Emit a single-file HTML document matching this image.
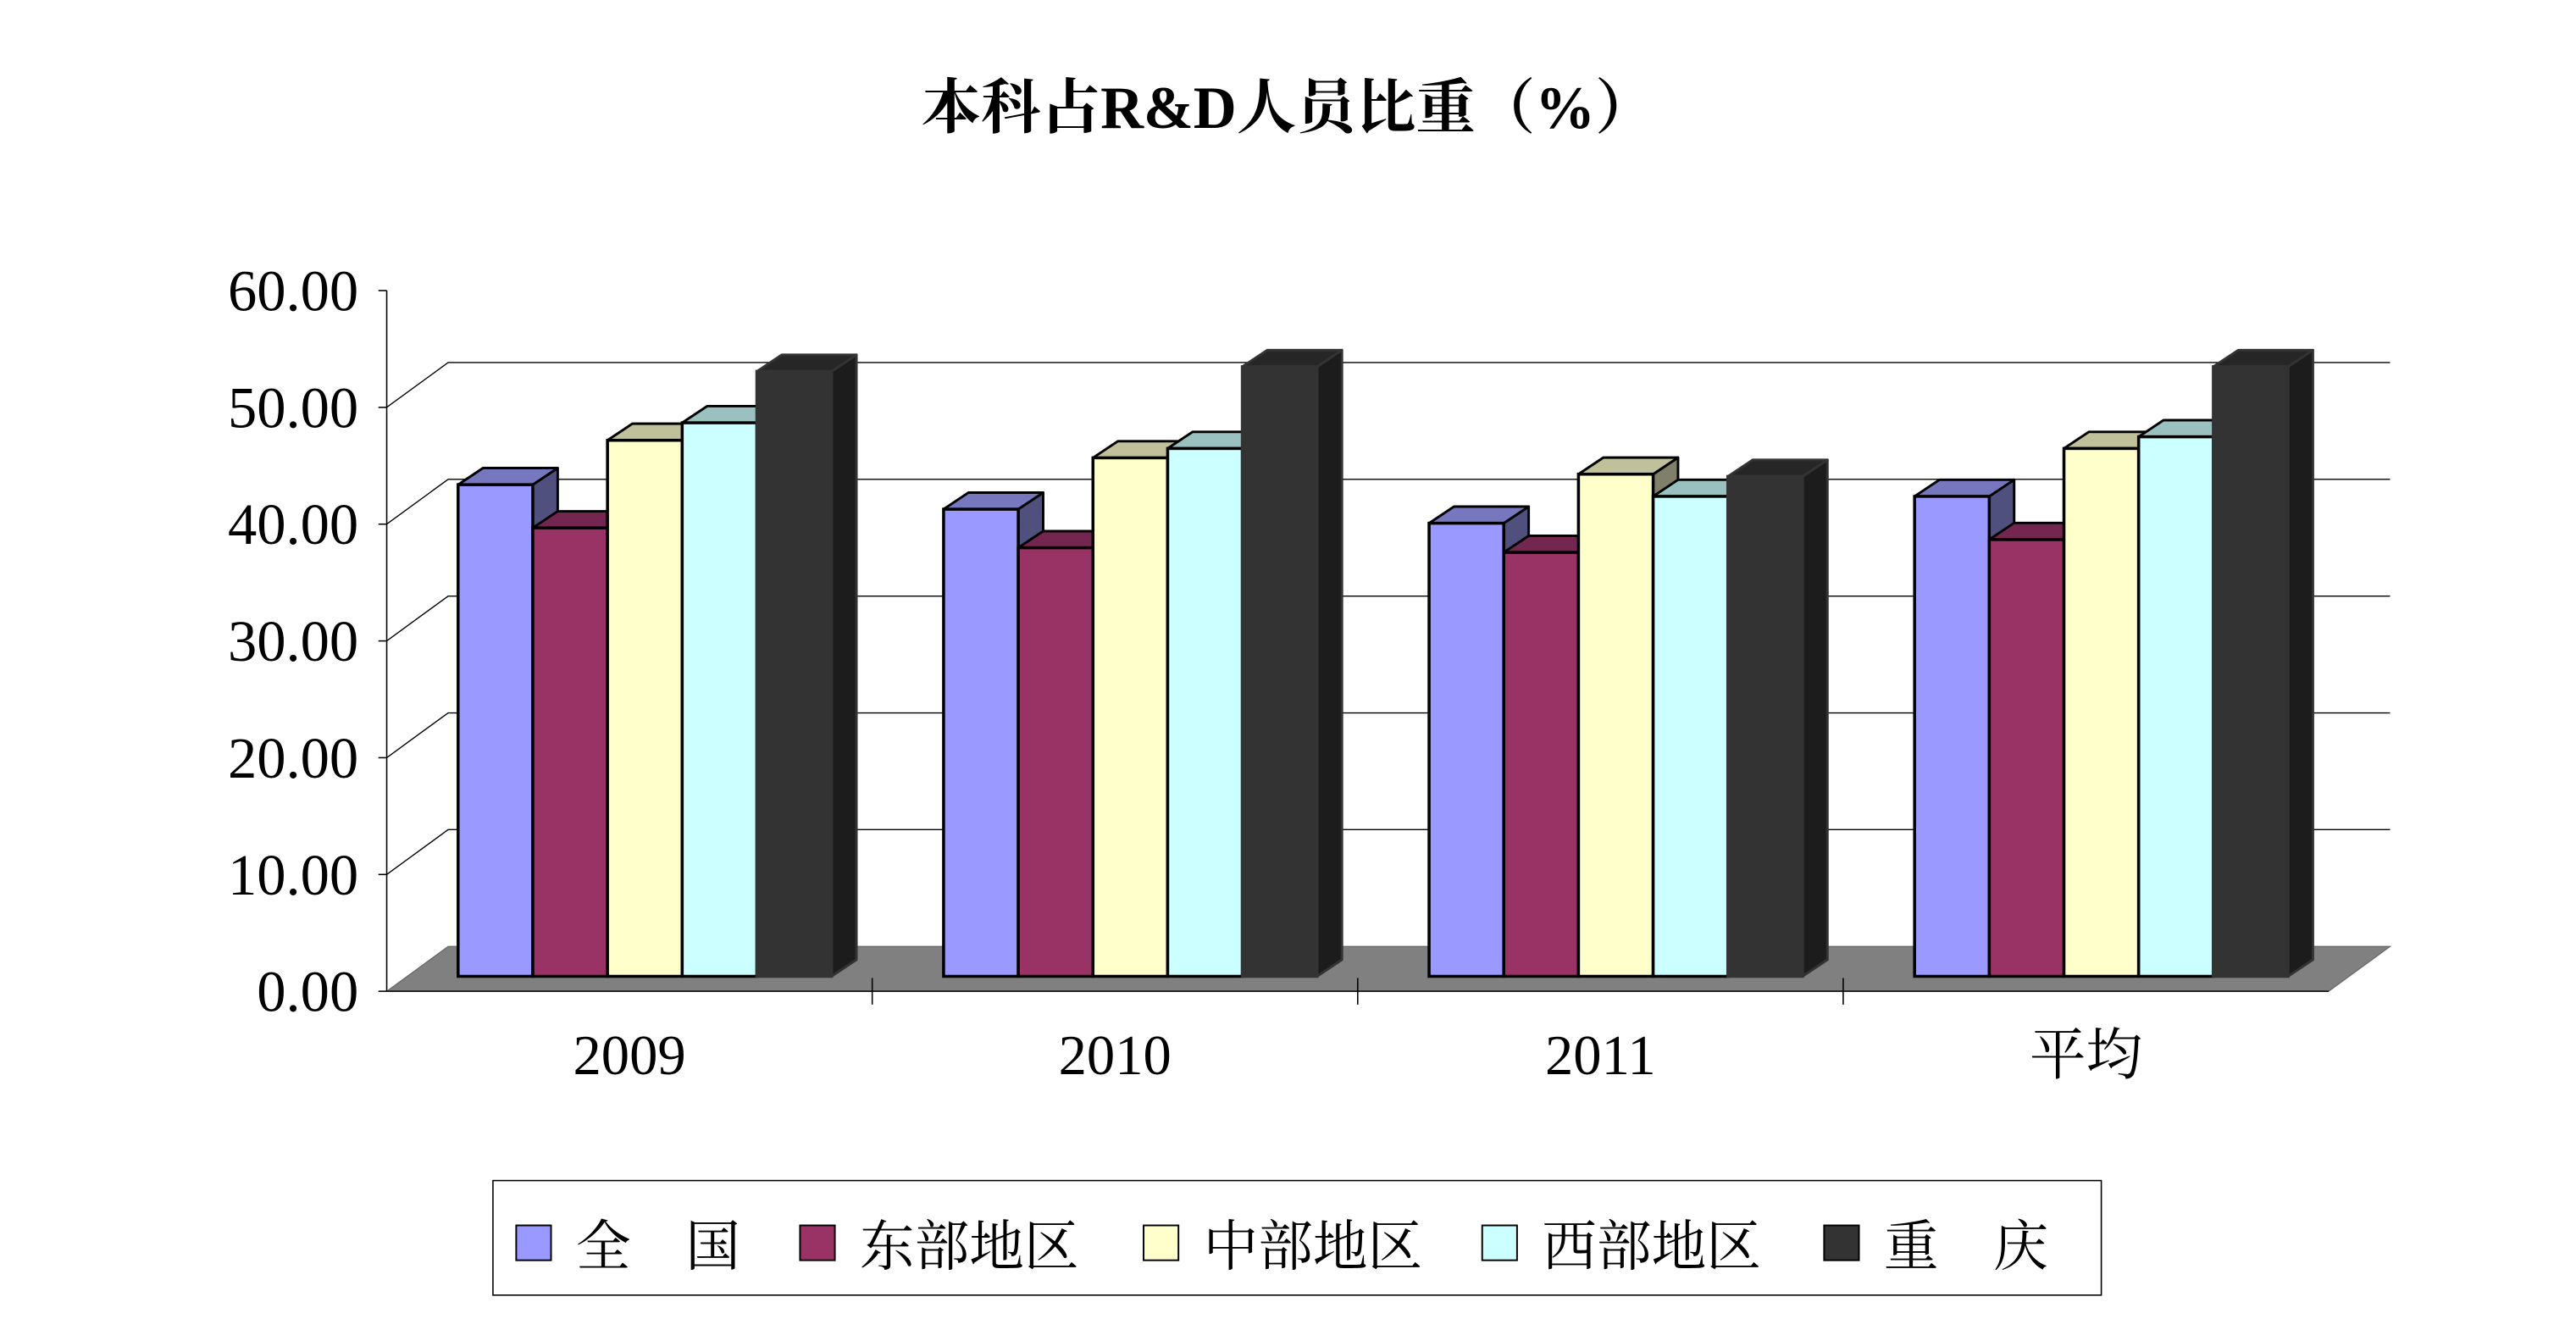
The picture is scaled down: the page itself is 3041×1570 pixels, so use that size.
<!DOCTYPE html>
<html><head><meta charset="utf-8"><style>
html,body{margin:0;padding:0;background:#fff}
svg{display:block}
text{font-family:"Liberation Serif","Noto Serif CJK SC",serif;fill:#000}
</style></head><body>
<svg id="chart" width="3041" height="1570" viewBox="0 0 1552 801" preserveAspectRatio="none" xmlns="http://www.w3.org/2000/svg">
<text x="776" y="77" text-anchor="middle" font-size="36" font-weight="bold" style="font-family:'Liberation Serif','Noto Serif CJK SC',serif">本科占R&amp;D人员比重（%）</text>
<g id="grid"></g>
<g id="bars"></g>
<g id="axes"></g>
<g id="legend"></g>
</svg>
<script>
const categories = ["2009","2010","2011","平均"];
const seriesNames = ["全　国","东部地区","中部地区","西部地区","重　庆"];
const quanguo = [42.1, 40.0, 38.8, 41.1];
const dongbu = [38.4, 36.7, 36.3, 37.4];
const zhongbu = [45.9, 44.4, 43.0, 45.2];
const xibu = [47.4, 45.2, 41.1, 46.2];
const chongqing = [51.8, 52.2, 42.8, 52.2];
const yTicks = ["0.00","10.00","20.00","30.00","40.00","50.00","60.00"];
const series = [quanguo, dongbu, zhongbu, xibu, chongqing];

const NS = "http://www.w3.org/2000/svg";
const fronts = ["#9999FF","#993366","#FFFFCC","#CCFFFF","#333333"];
const tops = ["#7777C0","#732650","#C0C09A","#9AC0C0","#262626"];
const sides = ["#50507F","#4D1A33","#80806A","#6A8080","#1C1C1C"];
const strokes = ["#000","#000","#000","#000","#333"];
const ax0 = 233, ax1 = 1403, yBase = 597, yTop = 175, dX = 37, dY = -27;
const vMax = 60;
function yFront(v){ return yBase - (v / vMax) * (yBase - yTop); }
const barBase = 588, barScale = (588 - 166) / 60;
function yBar(v){ return barBase - v * barScale; }
const catW = (ax1 - ax0) / categories.length;
const barW = 45, bdx = 15, bdy = -10;
function el(tag, attrs, parent){
  const e = document.createElementNS(NS, tag);
  for (const k in attrs) e.setAttribute(k, attrs[k]);
  parent.appendChild(e); return e;
}
const grid = document.getElementById('grid');
const axes = document.getElementById('axes');
const bars = document.getElementById('bars');
const legend = document.getElementById('legend');

// floor
const floor = el('polygon', {points:`${ax0},${yBase} ${ax1},${yBase} ${ax1+dX},${yBase+dY} ${ax0+dX},${yBase+dY}`, fill:'#808080', stroke:'#666', 'stroke-width':0.6}, grid);


// gridlines
yTicks.forEach((t, i) => {
  const v = parseFloat(t);
  const y = yFront(v);
  if (v > 0 && v < vMax) {
    const g = el('polyline', {points:`${ax0},${y} ${ax0+dX},${y+dY} ${ax1+dX},${y+dY}`, fill:'none', stroke:'#000', 'stroke-width':0.7}, grid);
    
    
  }
  const tk = el('line', {x1:ax0-5, y1:y, x2:ax0, y2:y, stroke:'#000', 'stroke-width':0.8}, axes);
  
  
  const lb = el('text', {x:216, y:y+12, 'text-anchor':'end', 'font-size':35}, axes);
  
  
  lb.textContent = t;
});
const yAxis = el('line', {x1:ax0, y1:yTop, x2:ax0, y2:yBase, stroke:'#000', 'stroke-width':0.8}, axes);


const xAxis = el('line', {x1:ax0, y1:yBase, x2:ax1, y2:yBase, stroke:'#000', 'stroke-width':0.8}, axes);



categories.forEach((c, ci) => {
  const cx0 = ax0 + ci * catW;
  if (ci > 0) {
    const d = el('line', {x1:cx0, y1:yBase, x2:cx0, y2:yBase-18+18+0, stroke:'#000', 'stroke-width':0.8}, axes);
    d.setAttribute('y2', yBase + 0);
    d.setAttribute('y1', yBase - 0);
    d.setAttribute('y2', yBase - 0);
    
    
    const d2 = el('line', {x1:cx0, y1:yBase-8, x2:cx0, y2:yBase+8, stroke:'#000', 'stroke-width':0.8}, axes);
    
    
  }
  const lb = el('text', {x:cx0 + catW/2, y:647, 'text-anchor':'middle', 'font-size':34}, axes);
  
  
  lb.textContent = c;
  const gx = cx0 + 43;
  series.forEach((s, si) => {
    const x = gx + si * barW;
    const y = yBar(s[ci]);
    const g = el('g', {}, bars);
    
    
    el('polygon', {points:`${x+barW},${y} ${x+barW+bdx},${y+bdy} ${x+barW+bdx},${barBase+bdy} ${x+barW},${barBase}`, fill:sides[si], stroke:strokes[si], 'stroke-width':1.5, 'stroke-linejoin':'round'}, g);
    el('polygon', {points:`${x},${y} ${x+bdx},${y+bdy} ${x+barW+bdx},${y+bdy} ${x+barW},${y}`, fill:tops[si], stroke:strokes[si], 'stroke-width':1.5, 'stroke-linejoin':'round'}, g);
    el('rect', {x:x, y:y, width:barW, height:barBase-y, fill:fronts[si], stroke:strokes[si], 'stroke-width':1.8}, g);
  });
});

// legend
const box = el('rect', {x:297, y:711, width:969, height:69, fill:'#fff', stroke:'#000', 'stroke-width':0.8}, legend);


const legSq = [311, 482, 689, 893, 1099];
seriesNames.forEach((n, i) => {
  const g = el('g', {}, legend);
  
  
  el('rect', {x:legSq[i], y:738, width:21, height:21, fill:fronts[i], stroke:'#000', 'stroke-width':1}, g);
  const t = el('text', {x:legSq[i]+36, y:762, 'font-size':33, style:"font-family:'Liberation Serif','Noto Serif CJK SC',serif"}, g);
  t.textContent = n;
});
</script>
</body></html>
